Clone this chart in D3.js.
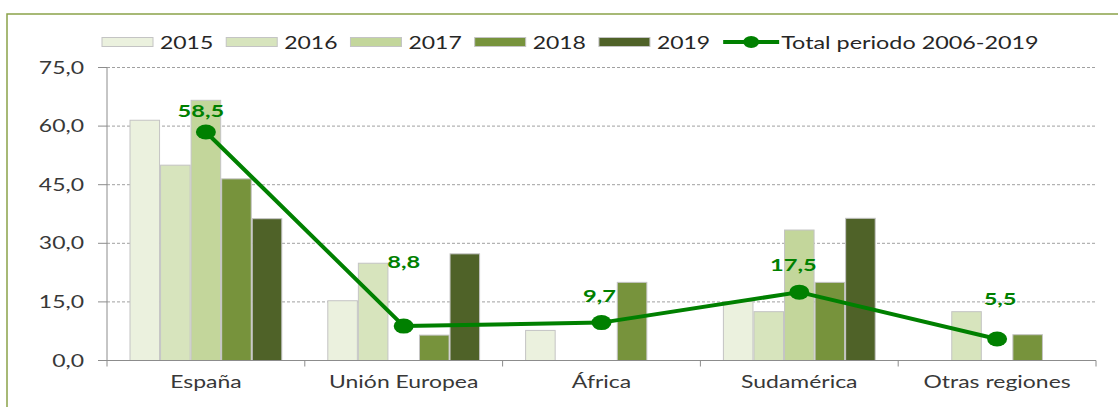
<!DOCTYPE html>
<html>
<head>
<meta charset="utf-8">
<script src="https://cdn.jsdelivr.net/npm/d3@7"></script>
<style>
body{margin:0;background:#fff;}
svg{display:block;}
</style>
</head>
<body>
<div id="chart"></div>
<script>
// data
var regions=["España","Unión Europea","África","Sudamérica","Otras regiones"];
var years=["2015","2016","2017","2018","2019"];
var v2015=[61.5,15.3,7.7,15.1,null];
var v2016=[50.0,24.9,null,12.5,12.5];
var v2017=[66.6,null,null,33.4,null];
var v2018=[46.5,6.5,20.0,20.0,6.6];
var v2019=[36.3,27.3,null,36.4,null];
var total=[58.5,8.8,9.7,17.5,5.5];
var totalName="Total periodo 2006-2019";
var yTicks=[0,15,30,45,60,75];

var series=[v2015,v2016,v2017,v2018,v2019];
var colors=["#ebf1de","#d7e4bd","#c3d69b","#77933c","#4f6228"];
var lineColor="#008000";

var width=1118,height=407;
var sx=1.35; // reference text is stretched horizontally
var font="Lato, 'Open Sans', sans-serif";

var svg=d3.select("#chart").append("svg").attr("width",width).attr("height",height);

// outer frame
svg.append("rect").attr("x",7).attr("y",14).attr("width",1130).attr("height",420)
.attr("fill","none").attr("stroke","#8aa34a").attr("stroke-width",1.5);

var x0=d3.scaleBand().domain(regions).range([107,1096]).padding(0);
var gap=22.5;
var x1=d3.scaleBand().domain(years).range([gap,x0.bandwidth()-gap]).padding(0);
var y=d3.scaleLinear().domain([0,75]).range([360.5,67.5]);

function stretchText(sel,x,yy){
  return sel.attr("transform","translate("+x+","+yy+") scale("+sx+",1)");
}

// gridlines
svg.append("g").selectAll("line").data(yTicks.filter(d=>d>0)).enter().append("line")
.attr("x1",107).attr("x2",1096)
.attr("y1",d=>y(d)).attr("y2",d=>y(d))
.attr("stroke","#a0a0a0").attr("stroke-width",1).attr("stroke-dasharray","3,2");

// y axis
var yAxis=svg.append("g");
yAxis.append("line").attr("x1",107).attr("x2",107).attr("y1",y(75)).attr("y2",y(0))
.attr("stroke","#8c8c8c");
yAxis.selectAll(".tk").data(yTicks).enter().append("line")
.attr("x1",98).attr("x2",107).attr("y1",d=>y(d)).attr("y2",d=>y(d))
.attr("stroke","#8c8c8c");
yAxis.selectAll("text").data(yTicks).enter().append("text")
.each(function(d){stretchText(d3.select(this),84,y(d)+6);})
.attr("text-anchor","end")
.attr("font-family",font).attr("font-size",17).attr("fill","#383838")
.text(d=>d3.format(".1f")(d).replace(".",","));

// bars
var groups=svg.append("g").selectAll("g").data(regions).enter().append("g")
.attr("transform",d=>"translate("+x0(d)+",0)");
groups.selectAll("rect").data((d,i)=>years.map((yr,j)=>({yr:yr,v:series[j][i],j:j})).filter(e=>e.v!=null))
.enter().append("rect")
.attr("x",d=>x1(d.yr)+0.5)
.attr("y",d=>y(d.v))
.attr("width",x1.bandwidth()-1)
.attr("height",d=>y(0)-y(d.v))
.attr("fill",d=>colors[d.j])
.attr("stroke","#c4c4c4").attr("stroke-width",1);

// x axis
var xAxis=svg.append("g");
xAxis.append("line").attr("x1",107).attr("x2",1096).attr("y1",y(0)).attr("y2",y(0))
.attr("stroke","#8c8c8c");
var bounds=regions.map(r=>x0(r)).concat([1096]);
xAxis.selectAll(".tk").data(bounds).enter().append("line")
.attr("x1",d=>d).attr("x2",d=>d).attr("y1",y(0)).attr("y2",y(0)+6)
.attr("stroke","#8c8c8c");
xAxis.selectAll("text").data(regions).enter().append("text")
.each(function(d){stretchText(d3.select(this),x0(d)+x0.bandwidth()/2,388);})
.attr("text-anchor","middle")
.attr("font-family",font).attr("font-size",17).attr("fill","#383838")
.text(d=>d);

// total line
var cx=d=>x0(d)+x0.bandwidth()/2;
var line=d3.line().x((d,i)=>cx(regions[i])).y(d=>y(d));
svg.append("path").datum(total).attr("d",line)
.attr("fill","none").attr("stroke",lineColor).attr("stroke-width",4).attr("stroke-linejoin","round");
svg.append("g").selectAll("ellipse").data(total).enter().append("ellipse")
.attr("cx",(d,i)=>cx(regions[i])).attr("cy",d=>y(d))
.attr("rx",10).attr("ry",7.5).attr("fill",lineColor);

// data labels (placed by hand in the original)
var labelDx=[-5,0,-2,-6,3];
var labelDy=[-15,-58,-21,-21,-34];
svg.append("g").selectAll("text").data(total).enter().append("text")
.each(function(d,i){stretchText(d3.select(this),cx(regions[i])+labelDx[i],y(d)+labelDy[i]);})
.attr("text-anchor","middle")
.attr("font-family",font).attr("font-weight","bold").attr("font-size",17.5).attr("fill",lineColor)
.text(d=>d3.format(".1f")(d).replace(".",","));

// legend
var legend=svg.append("g");
var lx=102;
years.forEach(function(yr,j){
  legend.append("rect").attr("x",lx).attr("y",37.5).attr("width",51).attr("height",9)
  .attr("fill",colors[j]).attr("stroke","#c4c4c4").attr("stroke-width",1);
  var t=legend.append("text").attr("font-family",font).attr("font-size",17).attr("fill","#262626").text(yr);
  stretchText(t,lx+58,48.5);
  lx=lx+58+t.node().getComputedTextLength()*sx+13;
});
legend.append("line").attr("x1",lx).attr("x2",lx+56).attr("y1",42).attr("y2",42)
.attr("stroke",lineColor).attr("stroke-width",4);
legend.append("ellipse").attr("cx",lx+28).attr("cy",42).attr("rx",8).attr("ry",6).attr("fill",lineColor);
var lt=legend.append("text").attr("font-family",font).attr("font-size",17.3).attr("fill","#262626").text(totalName);
stretchText(lt,lx+58,48.5);
</script>
</body>
</html>
